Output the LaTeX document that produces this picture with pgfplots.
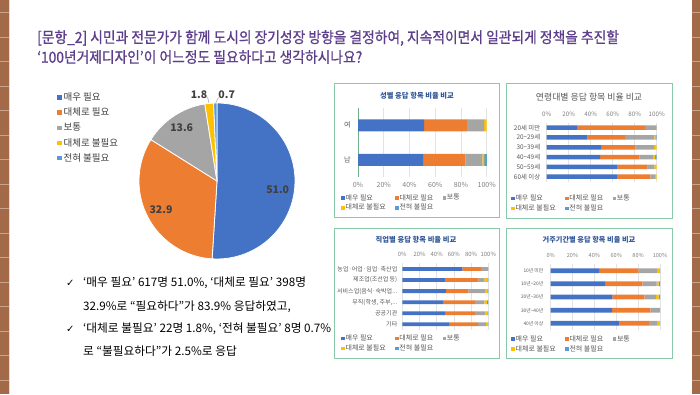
\documentclass[border=0pt]{standalone}
\usepackage{fontspec}
\usepackage{pgfplots}
\usepackage{pgfplotstable}
\pgfplotsset{compat=1.18}
\setmainfont{Noto Sans CJK KR}
\newfontfamily\symfont{DejaVu Sans}
\newfontfamily\titlefont[FakeStretch=0.9, FakeBold=0.8]{Noto Sans CJK KR}
\newcommand{\fsz}[1]{\fontsize{#1}{#1}\selectfont}
\newcommand{\dd}{.\kern0pt.\kern0pt.}
\definecolor{c1}{HTML}{4472C4}
\definecolor{c2}{HTML}{ED7D31}
\definecolor{c3}{HTML}{A5A5A5}
\definecolor{c4}{HTML}{FFC000}
\definecolor{c5}{HTML}{5B9BD5}
\definecolor{brick}{HTML}{A36A4A}
\definecolor{mortar}{HTML}{C9A38C}
\definecolor{framec}{HTML}{88C9A8}
\definecolor{axc}{HTML}{6FAF8F}
\definecolor{ttl}{HTML}{5E3F8C}
\definecolor{ctitle}{HTML}{2F5597}
\definecolor{lbl}{HTML}{595959}
\definecolor{tk}{HTML}{808080}
\definecolor{gridc}{HTML}{E3E3E3}
\definecolor{dark}{HTML}{404040}

% gender (y: 1 = 여, 0 = 남)
\pgfplotstableread{
y a b c d e
1 51.3 33.2 13.4 2.1 0.0
0 50.6 32.8 13.3 1.5 1.8
}\tgen
% age (5 = 20세 미만 ... 0 = 60세 이상)
\pgfplotstableread{
y a b c d e
5 28.2 61.2 10.6 0.0 0.0
4 37.0 34.2 26.7 0.9 1.2
3 50.0 30.9 16.7 2.4 0.0
2 48.5 35.7 12.2 2.1 1.5
1 64.5 27.3 6.1 2.1 0.0
0 64.5 29.7 4.9 0.9 0.0
}\tage
% job
\pgfplotstableread{
y a b c d e
5 69.8 21.7 8.5 0.0 0.0
4 49.6 38.8 6.9 3.5 1.2
3 50.8 25.9 20.2 1.9 1.2
2 48.1 36.4 10.8 3.1 1.6
1 50.4 34.1 12.0 2.3 1.2
0 54.3 33.7 9.3 2.3 0.4
}\tjob
% residence
\pgfplotstableread{
y a b c d e
4 44.2 36.0 17.7 1.5 0.6
3 49.7 34.1 13.2 1.8 1.2
2 56.4 29.3 10.6 2.5 1.2
1 56.1 35.1 8.8 0.0 0.0
0 62.8 27.1 7.9 2.1 0.1
}\tres

\pgfplotsset{
  bl/.style={fill=#1, draw=none,
    legend image code/.code={\fill[fill=#1] (0pt,-1.8pt) rectangle (3.6pt,1.8pt);}},
  stk/.style={
    xbar stacked, scale only axis, clip=false,
    xmin=0, xmax=100,
    xtick={0,20,40,60,80,100},
    xticklabel={\pgfmathprintnumber{\tick}\%},
    /pgf/number format/assume math mode=true,
    xmajorgrids, major grid style={draw=gridc, line width=0.5pt},
    axis line style={draw=none}, tick style={draw=none},
    xticklabel style={text=tk},
    yticklabel style={text=lbl},
    legend columns=3,
    legend cell align=left,
    legend style={draw=none, fill=none, text=lbl, anchor=north west,
      inner sep=0pt, row sep=1pt, font=\fsz{7},
      nodes={inner sep=0.8pt},
      /tikz/every even column/.append style={column sep=8.5pt}},
  },
}

\begin{document}
\begin{tikzpicture}[x=1pt,y=1pt]
\useasboundingbox (0,0) rectangle (700,394);
\fill[white] (0,0) rectangle (700,394);
% brick borders
\fill[brick] (0,0) rectangle (9,394);
\fill[brick] (691.5,0) rectangle (700,394);
\foreach \yy in {12.7,37.2,...,394} {
  \draw[mortar, line width=1pt] (0,{394-\yy}) -- (9,{394-\yy});
  \draw[mortar, line width=1pt] (691.5,{394-\yy}) -- (700,{394-\yy});
}
\draw[mortar!40!white, line width=1pt] (9.5,0) -- (9.5,394);

% title
\node[anchor=west, text=ttl, font=\titlefont\fsz{15.3}, inner sep=0] at (37,{394-38})
  {[문항\_2] 시민과 전문가가 함께 도시의 장기성장 방향을 결정하여, 지속적이면서 일관되게 정책을 추진할};
\node[anchor=west, text=ttl, font=\titlefont\fsz{15.3}, inner sep=0] at (37,{394-57})
  {‘100년거제디자인’이 어느정도 필요하다고 생각하시나요?};

% pie
\begin{axis}[at={(139pt,135pt)}, anchor=south west, scale only axis,
  width=156pt, height=156pt, xmin=-1, xmax=1, ymin=-1, ymax=1,
  hide axis, clip=false,
  legend cell align=left,
  legend style={at={(axis description cs:-0.545,1.09)}, anchor=north west,
    draw=none, fill=none, font=\fsz{9.5}, text=dark, row sep=2.2pt,
    nodes={inner sep=1.8pt}},
  legend image code/.code={\fill[#1] (0pt,-2.3pt) rectangle (4.6pt,2.3pt);}]
\addlegendimage{fill=c1,draw=none}\addlegendentry{매우 필요}
\addlegendimage{fill=c2,draw=none}\addlegendentry{대체로 필요}
\addlegendimage{fill=c3,draw=none}\addlegendentry{보통}
\addlegendimage{fill=c4,draw=none}\addlegendentry{대체로 불필요}
\addlegendimage{fill=c5,draw=none}\addlegendentry{전혀 불필요}
\filldraw[fill=c1, draw=white, line width=0.8pt] (axis cs:0,0) -- ++(90:78pt)
  arc[start angle=90, delta angle={-3.6*51.0}, radius=78pt] -- cycle;
\filldraw[fill=c2, draw=white, line width=0.8pt] (axis cs:0,0) -- ++({90-3.6*51.0}:78pt)
  arc[start angle={90-3.6*51.0}, delta angle={-3.6*32.9}, radius=78pt] -- cycle;
\filldraw[fill=c3, draw=white, line width=0.8pt] (axis cs:0,0) -- ++({90-3.6*83.9}:78pt)
  arc[start angle={90-3.6*83.9}, delta angle={-3.6*13.6}, radius=78pt] -- cycle;
\filldraw[fill=c4, draw=white, line width=0.8pt] (axis cs:0,0) -- ++({90-3.6*97.5}:78pt)
  arc[start angle={90-3.6*97.5}, delta angle={-3.6*1.8}, radius=78pt] -- cycle;
\filldraw[fill=c5, draw=white, line width=0.8pt] (axis cs:0,0) -- ++({90-3.6*99.3}:78pt)
  arc[start angle={90-3.6*99.3}, delta angle={-3.6*0.7}, radius=78pt] -- cycle;
\end{axis}
% pie labels
\begin{scope}[every node/.style={font=\bfseries\fsz{10.5}, text=dark, inner sep=0}]
\node at (277.7,{394-189.3}) {51.0};
\node at (161,{394-209.3}) {32.9};
\node at (181.7,{394-127.3}) {13.6};
\node at (199,{394-95}) {1.8};
\node at (226.7,{394-95}) {0.7};
\end{scope}
\draw[c3, line width=0.5pt] (207.5,{394-97}) -- (209,{394-103});
\draw[c3, line width=0.5pt] (218.5,{394-97}) -- (215.8,{394-103});

% bullet text
\begin{scope}[every node/.style={anchor=west, inner sep=0, font=\fsz{11.7}, text=black}]
\node at (66,{394-283}) {\symfont\fsz{10}✓};
\node at (83,{394-283}) {‘매우 필요’ 617명 51.0\%, ‘대체로 필요’ 398명};
\node at (83,{394-307}) {32.9\%로 “필요하다”가 83.9\% 응답하였고,};
\node at (66,{394-329}) {\symfont\fsz{10}✓};
\node at (83,{394-329}) {‘대체로 불필요’ 22명 1.8\%, ‘전혀 불필요’ 8명 0.7\%};
\node at (83,{394-351}) {로 “불필요하다”가 2.5\%로 응답};
\end{scope}

% frames
\draw[framec, line width=1pt, fill=white] (334,{394-84}) rectangle (499,{394-217});
\draw[framec, line width=1pt, fill=white] (506,{394-84}) rectangle (672,{394-218});
\draw[framec, line width=1pt, fill=white] (334,{394-228}) rectangle (499,{394-358});
\draw[framec, line width=1pt, fill=white] (506,{394-228}) rectangle (672,{394-358});

% chart titles
\node[font=\bfseries\fsz{7.3}, text=ctitle] at (417,{394-96}) {성별 응답 항목 비율 비교};
\node[font=\fsz{8.9}, text=lbl] at (589,{394-97}) {연령대별 응답 항목 비율 비교};
\node[font=\bfseries\fsz{7.3}, text=ctitle] at (416,{394-240}) {직업별 응답 항목 비율 비교};
\node[font=\bfseries\fsz{7.2}, text=ctitle] at (589,{394-240}) {거주기간별 응답 항목 비율 비교};

% chart 1: gender
\begin{axis}[stk, at={(358pt,217pt)}, anchor=south west, width=128.7pt, height=69pt,
  ymin=-0.5, ymax=1.5, ytick={0,1}, yticklabels={남,여}, bar width=12pt,
  axis lines*=left, separate axis lines, x axis line style={draw=none},
  y axis line style={draw=axc, line width=0.8pt},
  xticklabel style={font=\fsz{7}, yshift=-2pt},
  yticklabel style={font=\fsz{7}, xshift=-4pt},
  legend style={at={(axis description cs:-0.132,-0.235)}}]
\addplot[bl=c1] table[x=a,y=y]{\tgen};\addlegendentry{매우 필요}
\addplot[bl=c2] table[x=b,y=y]{\tgen};\addlegendentry{대체로 필요}
\addplot[bl=c3] table[x=c,y=y]{\tgen};\addlegendentry{보통}
\addplot[bl=c4] table[x=d,y=y]{\tgen};\addlegendentry{대체로 불필요}
\addplot[bl=c5] table[x=e,y=y]{\tgen};\addlegendentry{전혀 불필요}
\end{axis}

% chart 2: age
\begin{axis}[stk, at={(546.7pt,212.4pt)}, anchor=south west, width=110pt, height=58.8pt,
  ymin=-0.5, ymax=5.5, ytick={0,1,2,3,4,5},
  yticklabels={{60세 이상},{50\textasciitilde59세},{40\textasciitilde49세},{30\textasciitilde39세},{20\textasciitilde29세},{20세 미만}},
  bar width=4.5pt, xticklabel pos=upper,
  xticklabel style={font=\fsz{6.2}, yshift=3pt},
  yticklabel style={font=\fsz{6.4}, xshift=-3pt},
  legend style={at={(axis description cs:-0.325,-0.21)}}]
\addplot[bl=c1] table[x=a,y=y]{\tage};\addlegendentry{매우 필요}
\addplot[bl=c2] table[x=b,y=y]{\tage};\addlegendentry{대체로 필요}
\addplot[bl=c3] table[x=c,y=y]{\tage};\addlegendentry{보통}
\addplot[bl=c4] table[x=d,y=y]{\tage};\addlegendentry{대체로 불필요}
\addplot[bl=c5] table[x=e,y=y]{\tage};\addlegendentry{전혀 불필요}
\end{axis}

% chart 3: job
\begin{axis}[stk, at={(402.3pt,64.2pt)}, anchor=south west, width=86pt, height=66.3pt,
  ymin=-0.5, ymax=5.5, ytick={0,1,2,3,4,5},
  yticklabels={{기타},{공공기관},{무직(학생, 주부,\dd},{서비스업(음식·숙박업\dd},{제조업(조선업 등)},{농업·어업·임업·축산업}},
  bar width=3.8pt, xticklabel pos=upper,
  xticklabel style={font=\fsz{5.9}, yshift=3pt},
  yticklabel style={font=\fsz{6}, xshift=-1.5pt},
  legend style={at={(axis description cs:-0.713,-0.06)}}]
\addplot[bl=c1] table[x=a,y=y]{\tjob};\addlegendentry{매우 필요}
\addplot[bl=c2] table[x=b,y=y]{\tjob};\addlegendentry{대체로 필요}
\addplot[bl=c3] table[x=c,y=y]{\tjob};\addlegendentry{보통}
\addplot[bl=c4] table[x=d,y=y]{\tjob};\addlegendentry{대체로 불필요}
\addplot[bl=c5] table[x=e,y=y]{\tjob};\addlegendentry{전혀 불필요}
\end{axis}

% chart 4: residence
\begin{axis}[stk, at={(550.7pt,64.1pt)}, anchor=south west, width=109.3pt, height=65.8pt,
  ymin=-0.5, ymax=4.5, ytick={0,1,2,3,4},
  yticklabels={{40년 이상},{30년\textasciitilde40년},{20년\textasciitilde30년},{10년\textasciitilde20년},{10년 미만}},
  bar width=4.7pt, xticklabel pos=upper,
  xticklabel style={font=\fsz{5.6}, yshift=3pt},
  yticklabel style={font=\fsz{4.8}, xshift=-4pt},
  legend style={at={(axis description cs:-0.363,-0.07)}}]
\addplot[bl=c1] table[x=a,y=y]{\tres};\addlegendentry{매우 필요}
\addplot[bl=c2] table[x=b,y=y]{\tres};\addlegendentry{대체로 필요}
\addplot[bl=c3] table[x=c,y=y]{\tres};\addlegendentry{보통}
\addplot[bl=c4] table[x=d,y=y]{\tres};\addlegendentry{대체로 불필요}
\addplot[bl=c5] table[x=e,y=y]{\tres};\addlegendentry{전혀 불필요}
\end{axis}
\end{tikzpicture}
\end{document}
